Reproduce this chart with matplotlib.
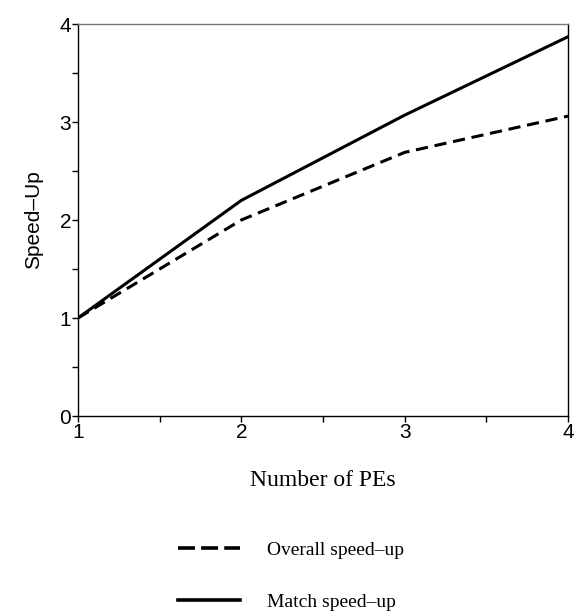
import matplotlib
matplotlib.use("Agg")
import matplotlib.pyplot as plt
from matplotlib.ticker import MultipleLocator
from matplotlib.lines import Line2D

pes = [1, 2, 3, 4]
overall = [1.0, 2.0, 2.69, 3.06]
match = [1.0, 2.2, 3.07, 3.87]
series_labels = ["Overall speed\u2013up", "Match speed\u2013up"]

fig = plt.figure(figsize=(5.74, 6.13), dpi=100)
ax = fig.add_axes([78/574, 1-416/613, (568-78)/574, (416-24)/613])

ax.plot(pes, overall, color="black", lw=2.2, ls=(0, (4, 2.2)), label=series_labels[0])
ax.plot(pes, match, color="black", lw=2.2, ls="-", label=series_labels[1])

ax.set_xlim(1, 4)
ax.set_ylim(0, 4)
ax.xaxis.set_major_locator(MultipleLocator(1))
ax.xaxis.set_minor_locator(MultipleLocator(0.5))
ax.yaxis.set_major_locator(MultipleLocator(1))
ax.yaxis.set_minor_locator(MultipleLocator(0.5))
ax.tick_params(which="both", direction="out", length=4, width=1, labelsize=15)
ax.tick_params(which="major", pad=1)
for lab in ax.get_xticklabels() + ax.get_yticklabels():
    lab.set_family("Liberation Sans")
for s in ax.spines.values():
    s.set_linewidth(1.0)
    s.set_color("black")
ax.spines["top"].set_color("#777777")

ax.set_xlabel("Number of PEs", family="Liberation Serif", fontsize=17, labelpad=20)
ax.set_ylabel("Speed\u2013Up", family="Liberation Sans", fontsize=15, labelpad=12)

handles = [Line2D([], [], color="black", lw=2.6, ls=(0, (4.7, 1.7))),
           Line2D([], [], color="black", lw=2.6, ls="-")]
fig.legend(handles, series_labels, loc="upper left", bbox_to_anchor=(160/574, 1-524/613),
           frameon=False, prop={"family": "Liberation Serif", "size": 14},
           handlelength=3.2, handletextpad=1.4, labelspacing=1.75)

fig.savefig("out.png", dpi=100)
